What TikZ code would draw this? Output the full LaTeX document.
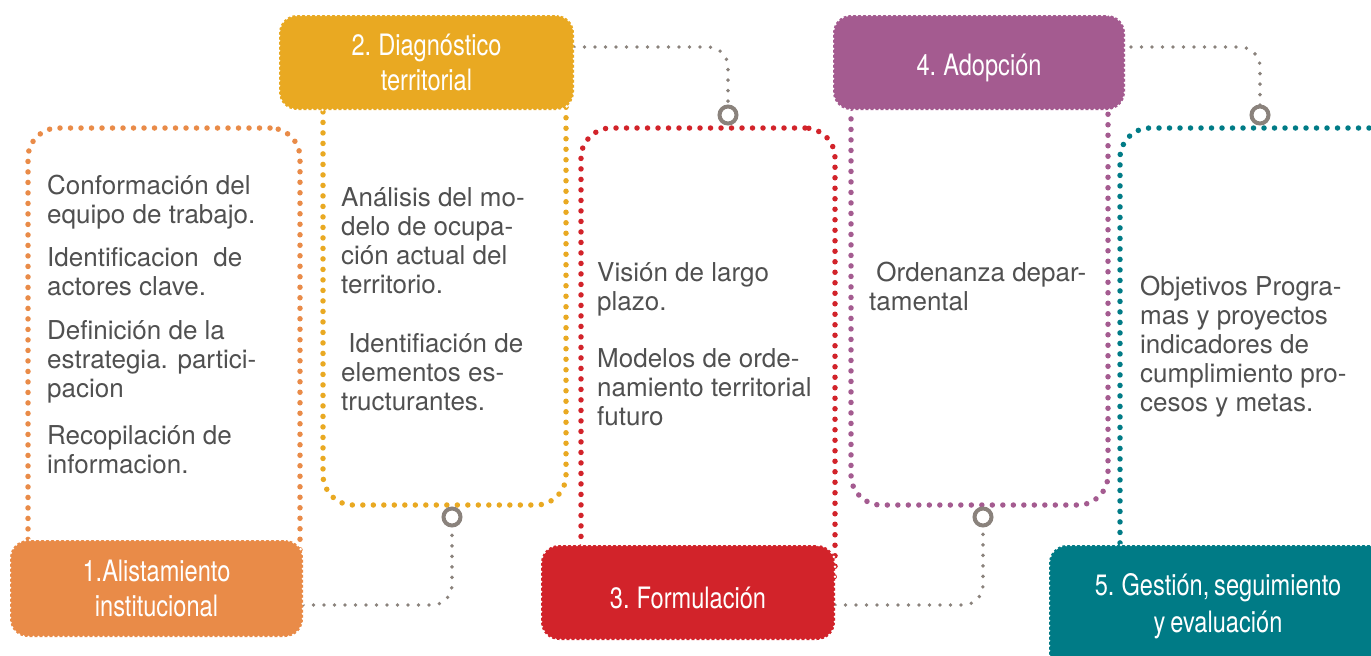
\documentclass[tikz,border=0pt]{standalone}
\usepackage{fontspec}
\setmainfont{TeX Gyre Heros}
\newfontfamily\headfont[FakeStretch=0.8,WordSpace=0.75]{TeX Gyre Heros}
\definecolor{corange}{HTML}{E98B48}
\definecolor{cgold}{HTML}{E9A922}
\definecolor{cred}{HTML}{D2232A}
\definecolor{cpurple}{HTML}{A45B90}
\definecolor{cteal}{HTML}{007B86}
\definecolor{cgray}{HTML}{8A827C}
\definecolor{txtgray}{HTML}{505050}
\tikzset{
  framebox/.style={rectangle, line width=5.5pt, dash pattern=on 0pt off 10.5pt, line cap=round, rounded corners=30pt, inner sep=0pt},
  headbox/.style={rectangle, rounded corners=18pt, draw=white, line width=2.8pt, dash pattern=on 0pt off 5pt, line cap=round, text=white, font=\headfont\fontsize{29.5}{35}\selectfont, align=center, inner sep=0pt},
  headtext/.style={text=white, font=\headfont\fontsize{29.5}{37}\selectfont, align=center, inner sep=0pt},
  body/.style={anchor=north west, inner sep=0pt, align=left, text=txtgray, font=\fontsize{26}{29}\selectfont},
  conn/.style={draw=cgray, line width=3.8pt, dash pattern=on 0pt off 10.5pt, line cap=round, rounded corners=20pt},
  ring/.style={circle, draw=cgray, line width=4pt, fill=white, minimum size=17pt, inner sep=0pt}
}
\begin{document}
\begin{tikzpicture}[x=1pt,y=-1pt]
\useasboundingbox (0,0) rectangle (1371,656);
\clip (0,0) rectangle (1371,656);
% frames
\node[framebox, draw=corange, minimum width=272pt, minimum height=472pt] (f1) at (164,364) {};
\node[framebox, draw=cgold, minimum width=243pt, minimum height=445pt] (f2) at (444.5,282.5) {};
\node[framebox, draw=cred, minimum width=254pt, minimum height=472pt] (f3) at (708,364) {};
\node[framebox, draw=cpurple, minimum width=257pt, minimum height=445pt] (f4) at (979.5,282.5) {};
\node[framebox, draw=cteal, minimum width=300pt, minimum height=472pt] (f5) at (1270,364) {};
% ring positions
\coordinate (c1) at (452,517);
\coordinate (c2) at (728,115);
\coordinate (c3) at (983,517);
\coordinate (c4) at (1260,115);
% connectors
\draw[conn] (303,605) coordinate (k1) -| (c1);
\draw[conn] (574,47) coordinate (k2) -| (c2);
\draw[conn] (835,605) coordinate (k3) -| (c3);
\draw[conn] (1110,47) coordinate (k4) -| (c4);
% headers
\node[headbox, fill=corange, minimum width=293pt, minimum height=97pt] (h1) at (156.5,588.5) {1.Alistamiento\\institucional};
\node[headbox, fill=cgold, minimum width=295pt, minimum height=95pt] (h2) at (426.5,62.5) {2. Diagnóstico\\territorial};
\node[headbox, fill=cred, minimum width=294pt, minimum height=95pt] (h3) at (688,592.5) {};
\node[headtext] (h3t) at (688,598) {3. Formulación};
\node[headbox, fill=cpurple, minimum width=292pt, minimum height=95pt] (h4) at (979,62.5) {};
\node[headtext] (h4t) at (979,68) {4. Adopción};
\node[headbox, fill=cteal, minimum width=340pt, minimum height=140pt] (h5) at (1219,615) {};
\node[headtext] (h5t) at (1218,606) {5. Gestión, seguimiento\\y evaluación};
% rings
\node[ring] (r1) at (c1) {};
\node[ring] (r2) at (c2) {};
\node[ring] (r3) at (c3) {};
\node[ring] (r4) at (c4) {};
% body texts
\node[body] (t11) at (47,174) {\strut Conformación del\\equipo de trabajo.};
\node[body] (t12) at (47,246) {\strut Identificacion\ \ de\\actores clave.};
\node[body] (t13) at (47,319) {\strut Definición de la\\estrategia. partici-\\pacion};
\node[body] (t14) at (47,424) {\strut Recopilación de\\informacion.};
\node[body] (t21) at (341,186) {\strut Análisis del mo-\\delo de ocupa-\\ción actual del\\territorio.};
\node[body] (t22) at (341,332) {\strut\ Identifiación de\\elementos es-\\tructurantes.};
\node[body] (t31) at (597,261) {\strut Visión de largo\\plazo.};
\node[body] (t32) at (597,347) {\strut Modelos de orde-\\namiento territorial\\futuro};
\node[body] (t41) at (869,261) {\strut\ Ordenanza depar-\\tamental};
\node[body] (t51) at (1140,275) {\strut Objetivos Progra-\\mas y proyectos\\indicadores de\\cumplimiento pro-\\cesos y metas.};
\end{tikzpicture}
\end{document}
